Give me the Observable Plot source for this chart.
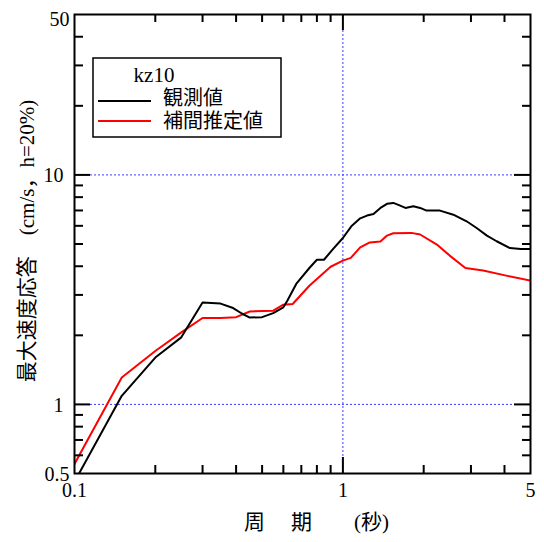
<!DOCTYPE html>
<html><head><meta charset="utf-8">
<script src="https://cdn.jsdelivr.net/npm/d3@7"></script>
<script src="https://cdn.jsdelivr.net/npm/@observablehq/plot@0.6"></script>
<style>body{margin:0;background:#fff}</style>
</head><body><div id="chart"></div>
<script>
// ---- data ----
const obsPeriod = [0.1, 0.15, 0.2, 0.25, 0.3, 0.35, 0.39, 0.42, 0.45, 0.5, 0.55, 0.6, 0.62, 0.67, 0.75, 0.8, 0.85, 0.92, 1.0, 1.08, 1.16, 1.23, 1.3, 1.38, 1.46, 1.54, 1.61, 1.71, 1.83, 1.94, 2.05, 2.3, 2.58, 2.89, 3.15, 3.44, 3.74, 4.19, 4.6, 5.0];
const obsValue  = [0.46, 1.09, 1.60, 1.96, 2.78, 2.75, 2.63, 2.49, 2.39, 2.40, 2.50, 2.65, 2.82, 3.35, 3.93, 4.27, 4.27, 4.76, 5.31, 6.01, 6.47, 6.65, 6.76, 7.18, 7.48, 7.55, 7.40, 7.18, 7.30, 7.18, 6.99, 6.99, 6.71, 6.28, 5.87, 5.44, 5.14, 4.80, 4.76, 4.75];
const estPeriod = [0.1, 0.15, 0.2, 0.25, 0.3, 0.35, 0.4, 0.45, 0.55, 0.6, 0.65, 0.75, 0.9, 1.0, 1.07, 1.16, 1.26, 1.38, 1.46, 1.54, 1.8, 1.94, 2.24, 2.5, 2.86, 3.33, 4.06, 5.0];
const estValue  = [0.55, 1.31, 1.71, 2.06, 2.38, 2.38, 2.40, 2.54, 2.56, 2.72, 2.74, 3.29, 3.98, 4.23, 4.35, 4.83, 5.08, 5.13, 5.44, 5.57, 5.59, 5.50, 4.97, 4.45, 3.93, 3.83, 3.64, 3.46];
const seriesNames = ["観測値", "補間推定値"];
const seriesColors = ["black", "red"];
const legendTitle = "kz10";
const xDomain = [0.1, 5];
const yDomain = [0.5, 50];
const xTickLabels = [0.1, 1, 5];
const yTickLabels = [0.5, 1, 10, 50];
const xMajorTicks = [1];
const xMinorTicks = [0.2, 0.3, 0.4, 0.5, 0.6, 0.7, 0.8, 0.9, 2, 3, 4];
const yMajorTicks = [1, 10];
const yMinorTicks = [0.6, 0.7, 0.8, 0.9, 2, 3, 4, 5, 6, 7, 8, 9, 20, 30, 40];
const xTitle = "周　 期　　(秒)";
const yTitle = "最大速度応答　(cm/s，h=20%)";

// ---- layout ----
const W = 544, H = 542, mL = 74, mR = 14, mT = 14, mB = 69;
const pw = W - mL - mR, ph = H - mT - mB;
const serif = "'Liberation Serif', 'Noto Sans CJK JP', serif";
const cjk = "'Liberation Serif', 'Noto Sans CJK JP', sans-serif";

const obs = obsPeriod.map((t, i) => ({t, v: obsValue[i]}));
const est = estPeriod.map((t, i) => ({t, v: estValue[i]}));
const grid = {stroke: "#3a3aff", strokeWidth: 1, strokeDasharray: "2,2"};
const minLen = 8, majLen = 16;
const cornerY = yTickLabels.filter(d => d === yDomain[0]);
const topY = yTickLabels.filter(d => d === yDomain[1]);
const innerY = yTickLabels.filter(d => d !== yDomain[0] && d !== yDomain[1]);

const chart = Plot.plot({
  width: W, height: H,
  marginLeft: mL, marginRight: mR, marginTop: mT, marginBottom: mB,
  style: {fontFamily: serif, fontSize: "20px", background: "white", color: "black", overflow: "visible"},
  x: {type: "log", domain: xDomain, axis: null},
  y: {type: "log", domain: yDomain, axis: null},
  marks: [
    Plot.ruleX(xMajorTicks, {x: d => d, ...grid}),
    Plot.ruleY(yMajorTicks, {y: d => d, ...grid}),
    Plot.line(est, {x: "t", y: "v", stroke: seriesColors[1], strokeWidth: 2, clip: true}),
    Plot.line(obs, {x: "t", y: "v", stroke: seriesColors[0], strokeWidth: 2, clip: true}),
    Plot.frame({stroke: "black", strokeWidth: 2}),
    // x ticks bottom / top
    Plot.tickX(xMinorTicks, {x: d => d, insetTop: ph - minLen, strokeWidth: 2}),
    Plot.tickX(xMinorTicks, {x: d => d, insetBottom: ph - minLen, strokeWidth: 2}),
    Plot.tickX(xMajorTicks, {x: d => d, insetTop: ph - majLen, strokeWidth: 2}),
    Plot.tickX(xMajorTicks, {x: d => d, insetBottom: ph - majLen, strokeWidth: 2}),
    // y ticks left / right
    Plot.tickY(yMinorTicks, {y: d => d, insetRight: pw - minLen - 1, strokeWidth: 2}),
    Plot.tickY(yMinorTicks, {y: d => d, insetLeft: pw - minLen, strokeWidth: 2}),
    Plot.tickY(yMajorTicks, {y: d => d, insetRight: pw - majLen, strokeWidth: 2}),
    Plot.tickY(yMajorTicks, {y: d => d, insetLeft: pw - majLen, strokeWidth: 2}),
    // tick labels
    Plot.text(xTickLabels, {x: d => d, frameAnchor: "bottom", text: d => String(d), dy: 23, fontSize: 20, fontFamily: serif, fill: "black"}),
    Plot.text(innerY, {y: d => d, frameAnchor: "left", textAnchor: "end", text: d => String(d), dx: -11, dy: 1, fontSize: 20, fontFamily: serif, fill: "black"}),
    Plot.text(cornerY, {y: d => d, frameAnchor: "left", textAnchor: "end", text: d => String(d), dx: -5, dy: 1, fontSize: 20, fontFamily: serif, fill: "black"}),
    Plot.text(topY, {y: d => d, frameAnchor: "left", textAnchor: "end", text: d => String(d), dx: -5, dy: 5, fontSize: 20, fontFamily: serif, fill: "black"}),
    // axis titles
    Plot.text([xTitle], {frameAnchor: "bottom", textAnchor: "middle", text: d => d, dx: 14, dy: 55, fontSize: 21, fontFamily: cjk, fill: "black"}),
    Plot.text([yTitle], {frameAnchor: "left", textAnchor: "middle", text: d => d, rotate: -90, dx: -47, dy: -3, fontSize: 21, fontFamily: cjk, fill: "black"})
  ]
});

// ---- legend inside the frame ----
const svg = d3.select(chart);
const lg = svg.append("g");
const bx = 93, by = 58, bw = 188, bh = 79;
lg.append("rect").attr("x", bx).attr("y", by).attr("width", bw).attr("height", bh)
  .attr("fill", "white").attr("stroke", "black").attr("stroke-width", 1.5);
lg.append("text").attr("x", 154).attr("y", 82).attr("text-anchor", "middle")
  .attr("font-family", serif).attr("font-size", 21).attr("fill", "black").text(legendTitle);
seriesNames.forEach((name, i) => {
  const yy = 101 + i * 20;
  lg.append("line").attr("x1", 98).attr("x2", 151).attr("y1", yy).attr("y2", yy)
    .attr("stroke", seriesColors[i]).attr("stroke-width", 2);
  lg.append("text").attr("x", 163).attr("y", 98 + i * 23).attr("dominant-baseline", "central")
    .attr("text-anchor", "start")
    .attr("font-family", cjk).attr("font-size", 20).attr("fill", "black").text(name);
});

document.getElementById("chart").appendChild(chart);
</script>
</body></html>
